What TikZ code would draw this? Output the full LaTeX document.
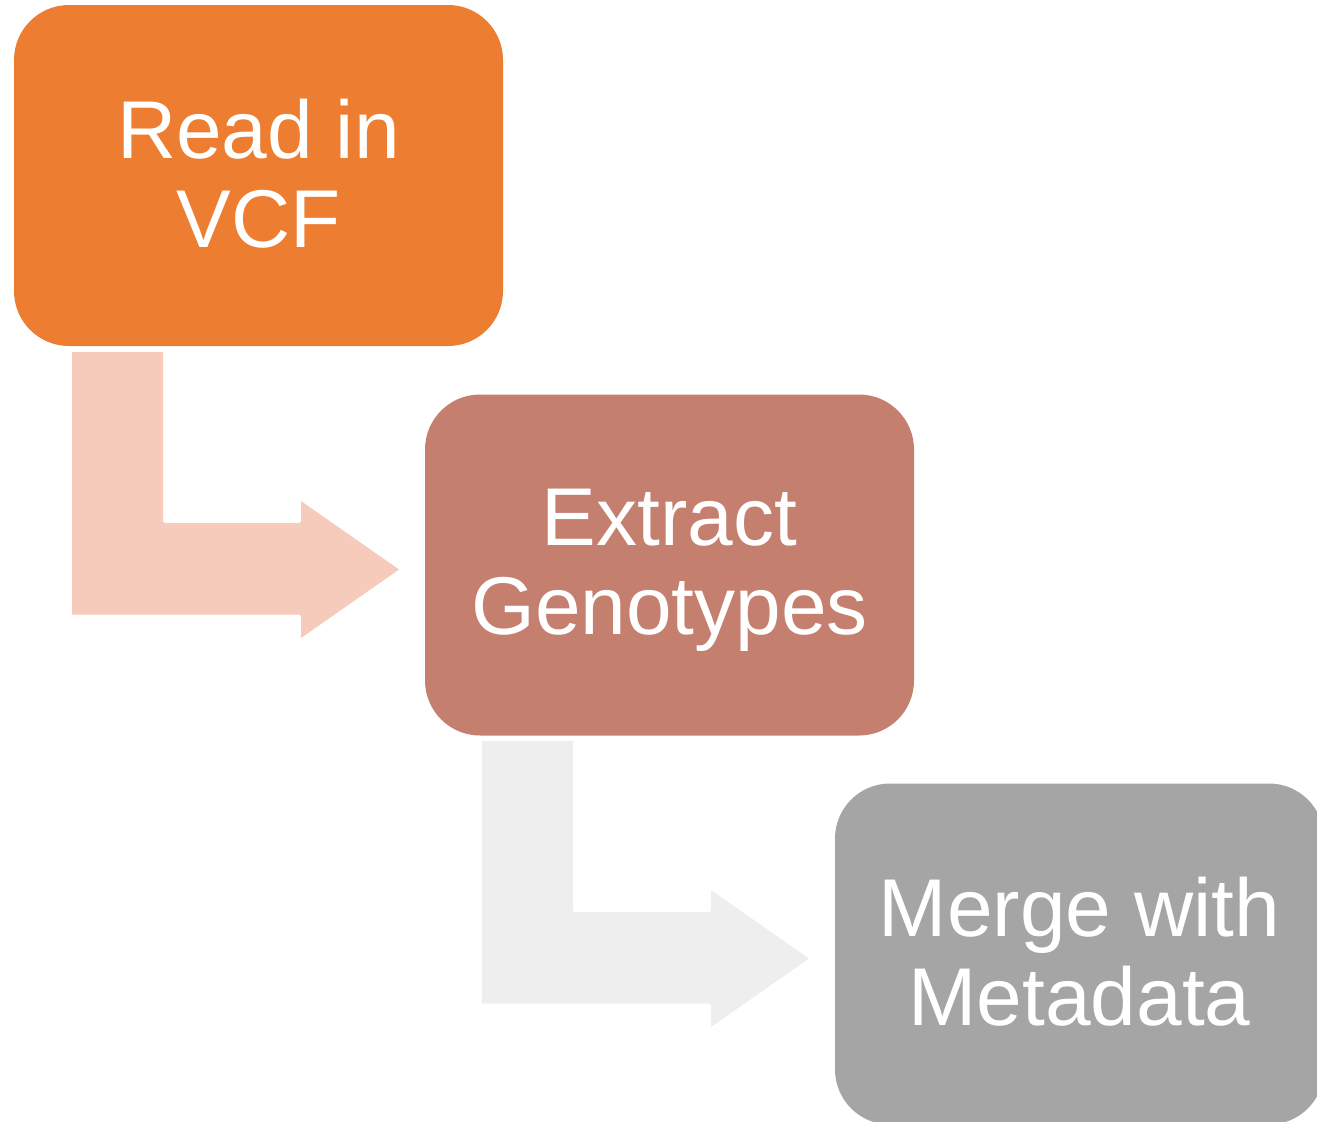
\documentclass[tikz,border=0pt]{standalone}
\usepackage{fontspec}
\setmainfont{Liberation Sans}
\usetikzlibrary{calc}
\definecolor{cOrange}{HTML}{ED7D31}
\definecolor{cRose}{HTML}{C47F6F}
\definecolor{cGrey}{HTML}{A5A5A5}
\definecolor{cArrowA}{HTML}{F6CBBC}
\definecolor{cArrowB}{HTML}{EDEEED}
\begin{document}
\begin{tikzpicture}[x=0.5pt,y=-0.5pt,
  stepbox/.style={rectangle, rounded corners=27.5pt, minimum width=244.5pt, minimum height=170.5pt,
    inner sep=0pt},
  steptext/.style={inner sep=0pt, text=white, align=center, font=\fontsize{41pt}{44.5pt}\selectfont},
  bentarrow/.style={rounded corners=1pt}]
\useasboundingbox (0,0) rectangle (1317,1121);
\clip (0,0) rectangle (1317,1121);
% arrows
\fill[cArrowA] (72,352) -- (163,352) [bentarrow]-- (163,523) -- (301,523) [sharp corners]-- (301,501) -- (399,569.5) -- (301,638) [bentarrow]-- (301,614.5) [sharp corners]-- (72,614.5) -- cycle;
\fill[cArrowB] (482,741) -- (573,741) [bentarrow]-- (573,912) -- (711,912) [sharp corners]-- (711,890) -- (809,958.5) -- (711,1027) [bentarrow]-- (711,1003.5) [sharp corners]-- (482,1003.5) -- cycle;
% boxes
\node[stepbox, fill=cOrange] (a) at (258.5,175.5) {};
\node[stepbox, fill=cRose] (b) at (669.5,565) {};
\node[stepbox, fill=cGrey] (c) at (1079.5,954) {};
\node[steptext] (ta) at ($(a.center)+(0,-2)$) {Read in\\VCF};
\node[steptext] (tb) at ($(b.center)+(0,5)$) {Extract\\Genotypes};
\node[steptext] (tc) at ($(c.center)+(0,-2)$) {Merge with\\Metadata};
\end{tikzpicture}
\end{document}
